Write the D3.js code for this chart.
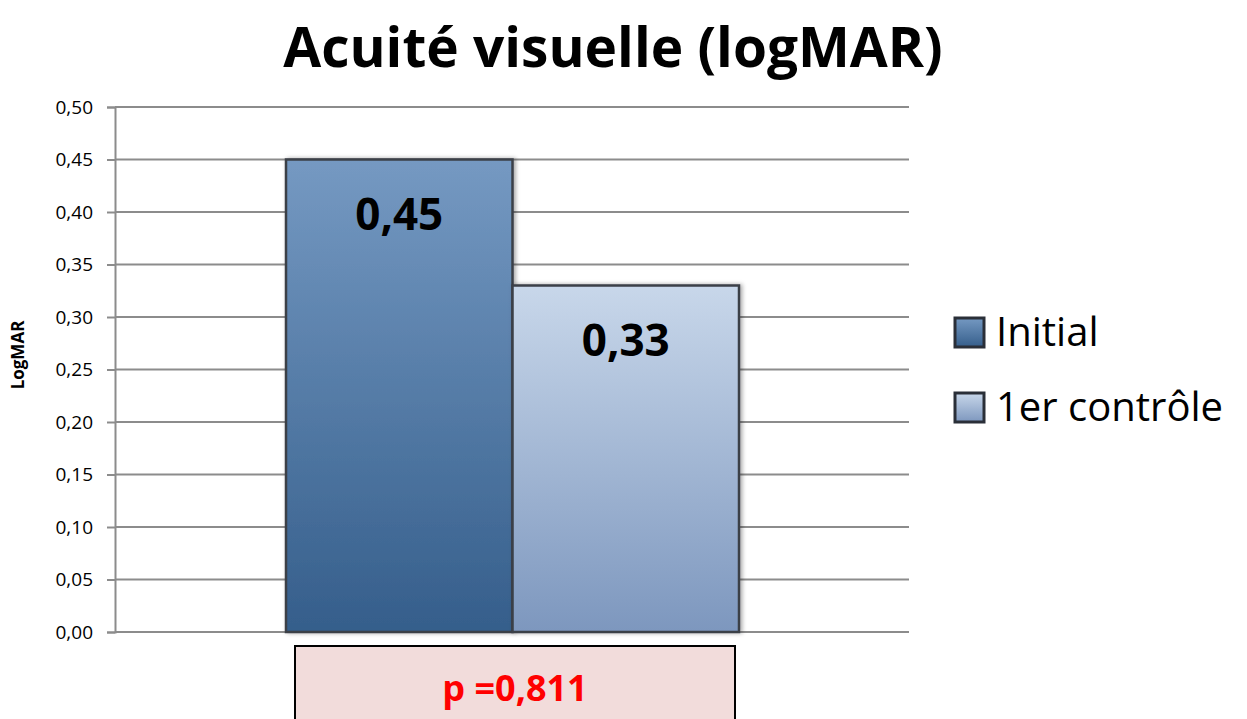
<!DOCTYPE html>
<html>
<head>
<meta charset="utf-8">
<script src="https://cdn.jsdelivr.net/npm/d3@7"></script>
<style>
  body { margin: 0; background: #fff; }
  svg { display: block; font-family: "Open Sans", "Lato", sans-serif; }
</style>
</head>
<body>
<div id="chart"></div>
<script>
// data
var categories = ["Initial", "1er contrôle"];
var values = [0.45, 0.33];
var valueLabels = ["0,45", "0,33"];
var yTicks = [0, 0.05, 0.10, 0.15, 0.20, 0.25, 0.30, 0.35, 0.40, 0.45, 0.50];
var pText = "p =0,811";

var width = 1247, height = 719;

var svg = d3.select("#chart").append("svg")
    .attr("width", width)
    .attr("height", height);

var defs = svg.append("defs");
var grads = [["gInit", "#7599c2", "#355e8b"], ["gCtrl", "#c8d7ea", "#7d97be"]];
grads.forEach(function(g){
    var lg = defs.append("linearGradient").attr("id", g[0])
        .attr("x1", 0).attr("y1", 0).attr("x2", 0).attr("y2", 1);
    lg.append("stop").attr("offset", "0%").attr("stop-color", g[1]);
    lg.append("stop").attr("offset", "100%").attr("stop-color", g[2]);
});
var sh = defs.append("filter").attr("id", "shadow").attr("x", "-10%").attr("y", "-10%").attr("width", "130%").attr("height", "130%");
sh.append("feDropShadow").attr("dx", 2).attr("dy", 0).attr("stdDeviation", 2).attr("flood-color", "#000").attr("flood-opacity", 0.35);

var y = d3.scaleLinear().domain([0, 0.5]).range([632, 107]);
// the two bars sit side by side in one group
var x = d3.scaleBand().domain(categories).range([286, 739]).padding(0);

// title
svg.append("text")
    .attr("x", 613).attr("y", 67)
    .attr("text-anchor", "middle")
    .style("font-size", "55px").style("font-weight", "bold")
    .text("Acuité visuelle (logMAR)");

// gridlines
svg.append("g")
    .selectAll("line").data(yTicks).enter().append("line")
    .attr("x1", 115).attr("x2", 909)
    .attr("y1", function(d){ return y(d); })
    .attr("y2", function(d){ return y(d); })
    .attr("stroke", "#8c8c8c").attr("stroke-width", 2);

// y axis
var fmt = function(d){ return d3.format(".2f")(d).replace(".", ","); };
var yAxis = svg.append("g")
    .attr("transform", "translate(115,0)")
    .call(d3.axisLeft(y).tickValues(yTicks).tickFormat(fmt).tickSize(8).tickPadding(14));
yAxis.select(".domain").attr("stroke", "#8c8c8c").attr("stroke-width", 2);
yAxis.selectAll(".tick line").attr("stroke", "#8c8c8c").attr("stroke-width", 2);
yAxis.selectAll("text").style("font-size", "19px").style("font-family", "Open Sans, sans-serif").attr("fill", "#000");

// axis title
svg.append("text")
    .attr("transform", "translate(24,355) rotate(-90)")
    .attr("text-anchor", "middle")
    .style("font-size", "17px").style("font-weight", "bold")
    .text("LogMAR");

// bars
svg.append("g").selectAll("rect").data(values).enter().append("rect")
    .attr("x", function(d, i){ return x(categories[i]); })
    .attr("y", function(d){ return y(d); })
    .attr("width", x.bandwidth())
    .attr("height", function(d){ return y(0) - y(d); })
    .attr("fill", function(d, i){ return "url(#" + grads[i][0] + ")"; })
    .attr("stroke", "#3a3f47").attr("stroke-width", 2.5)
    .attr("filter", "url(#shadow)");

// value labels
svg.append("g").selectAll("text").data(values).enter().append("text")
    .attr("x", function(d, i){ return x(categories[i]) + x.bandwidth() / 2; })
    .attr("y", function(d){ return y(d) + 70; })
    .attr("text-anchor", "middle")
    .style("font-size", "44px").style("font-weight", "bold")
    .text(function(d, i){ return valueLabels[i]; });

// legend
var leg = svg.append("g").selectAll("g").data(categories).enter().append("g")
    .attr("transform", function(d, i){ return "translate(955," + (318 + i * 75) + ")"; });
leg.append("rect")
    .attr("width", 29).attr("height", 29)
    .attr("fill", function(d, i){ return "url(#" + grads[i][0] + ")"; })
    .attr("stroke", "#2a2f38").attr("stroke-width", 3);
leg.append("text")
    .attr("x", 41).attr("y", 28)
    .style("font-size", "40px")
    .text(function(d){ return d; });

// p value box
svg.append("rect")
    .attr("x", 295).attr("y", 646)
    .attr("width", 440).attr("height", 90)
    .attr("fill", "#f2dcdb").attr("stroke", "#000").attr("stroke-width", 2);
svg.append("text")
    .attr("x", 515).attr("y", 701)
    .attr("text-anchor", "middle")
    .attr("fill", "#ff0000")
    .style("font-size", "36px").style("font-weight", "bold")
    .text(pText);
</script>
</body>
</html>
